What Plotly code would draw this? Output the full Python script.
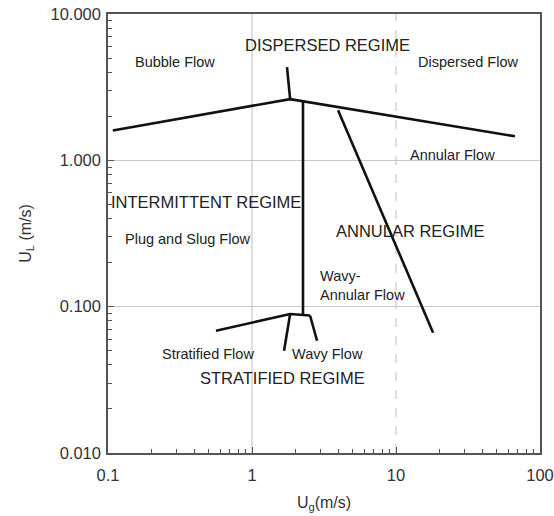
import numpy as np
import plotly.graph_objects as go

# Flow-regime transition boundaries (gas vs. liquid superficial velocity, m/s)
disp_ug = [0.108, 1.84, 67.0]
disp_ul = [1.60, 2.62, 1.46]

stub_ug = [1.75, 1.84]
stub_ul = [4.34, 2.62]

inter_ug = [2.26, 2.26]
inter_ul = [2.53, 0.087]

annular_ug = [3.96, 18.1]
annular_ul = [2.20, 0.0664]

strat_ug = [0.562, 1.84, 2.53]
strat_ul = [0.0685, 0.089, 0.087]

wavy_left_ug = [1.84, 1.67]
wavy_left_ul = [0.089, 0.050]

wavy_right_ug = [2.53, 2.83]
wavy_right_ul = [0.087, 0.0585]

boundaries = [
    (disp_ug, disp_ul),
    (stub_ug, stub_ul),
    (inter_ug, inter_ul),
    (annular_ug, annular_ul),
    (strat_ug, strat_ul),
    (wavy_left_ug, wavy_left_ul),
    (wavy_right_ug, wavy_right_ul),
]

# Region labels: (text, ug, ul, size, anchor)
labels = [
    ("DISPERSED REGIME", 3.32, 6.13, 16.5, "center"),
    ("Bubble Flow", 0.292, 4.69, 14.5, "center"),
    ("Dispersed Flow", 31.6, 4.69, 14.5, "center"),
    ("Annular Flow", 24.5, 1.08, 14.5, "center"),
    ("INTERMITTENT REGIME", 0.48, 0.516, 16.5, "center"),
    ("Plug and Slug Flow", 0.354, 0.292, 14.5, "center"),
    ("ANNULAR REGIME", 12.7, 0.327, 16.5, "center"),
    ("Wavy-<br>Annular Flow", 2.87, 0.139, 14.5, "left"),
    ("Stratified Flow", 0.494, 0.0477, 14.5, "center"),
    ("Wavy Flow", 3.37, 0.0477, 14.5, "center"),
    ("STRATIFIED REGIME", 1.64, 0.0327, 16.5, "center"),
]

x_ticks = [0.1, 1, 10, 100]
x_ticktext = ["0.1", "1", "10", "100"]
y_ticks = [0.01, 0.1, 1, 10]
y_ticktext = ["0.010", "0.100", "1.000", "10.000"]

# vertical grid lines: decade 1 solid, decade 10 dashed
x_grid = [(1, "solid"), (10, "dash")]

FONT = "Liberation Sans, Arial, Helvetica, sans-serif"
GRID = "#c8c8c8"

fig = go.Figure()

for gx, dash in x_grid:
    fig.add_vline(x=gx, line=dict(color=GRID, width=1.2, dash=dash),
                  layer="below")

for ug, ul in boundaries:
    fig.add_trace(go.Scatter(
        x=ug, y=ul, mode="lines",
        line=dict(color="#111111", width=2.6),
        showlegend=False, hoverinfo="skip",
    ))

for text, ug, ul, size, anchor in labels:
    fig.add_annotation(
        x=np.log10(ug), y=np.log10(ul), text=text, showarrow=False,
        xanchor=anchor, yanchor="middle", align="left",
        font=dict(family=FONT, size=size, color="#222222"),
    )

axis_common = dict(
    type="log", automargin=False,
    showline=True, linecolor="#555555", linewidth=1.5, mirror=True,
    ticks="inside", ticklen=6, tickcolor="#555555", tickwidth=1,
    gridcolor=GRID, gridwidth=1.2,
    zeroline=False,
    tickfont=dict(family=FONT, size=16.5, color="#333333"),
    minor=dict(ticks="inside", ticklen=4, tickcolor="#555555",
               dtick="D1", showgrid=False),
)

fig.update_xaxes(
    **axis_common,
    showgrid=False,
    range=[-1, 2],
    tickvals=x_ticks, ticktext=x_ticktext,
    ticklabelstandoff=6,
    title=dict(text="U<sub>g</sub>(m/s)", standoff=14,
               font=dict(family=FONT, size=16, color="#333333")),
)
fig.update_yaxes(
    **axis_common,
    showgrid=True,
    range=[-2, 1],
    tickvals=y_ticks, ticktext=y_ticktext,
    ticklabelstandoff=2,
    title=dict(text="U<sub>L</sub> (m/s)", standoff=15,
               font=dict(family=FONT, size=16, color="#333333")),
)

fig.update_layout(
    width=554, height=516,
    margin=dict(l=108, r=14, t=14, b=63),
    paper_bgcolor="white", plot_bgcolor="white",
    showlegend=False,
)

fig.write_html("out.html")
